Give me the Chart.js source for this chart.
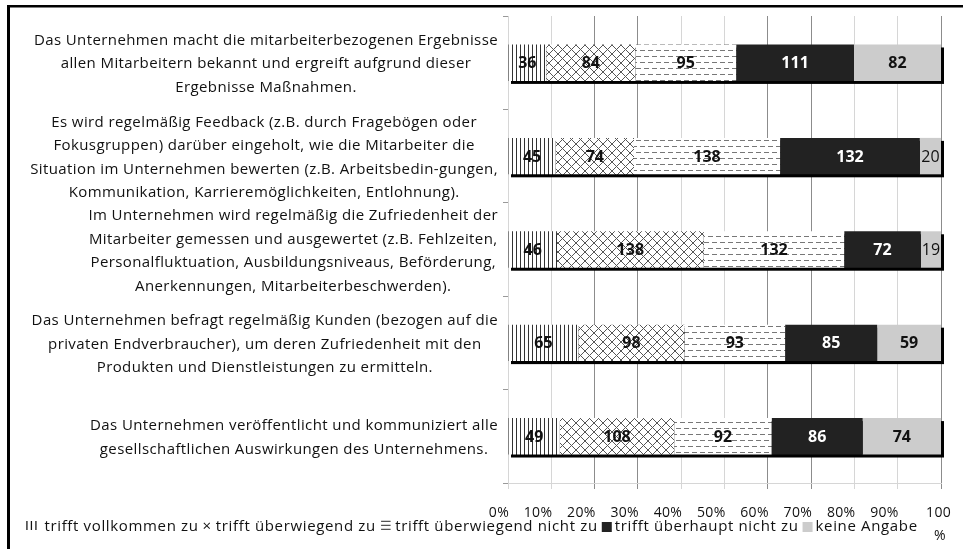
<!DOCTYPE html>
<html>
<head>
<meta charset="utf-8">
<script src="https://cdn.jsdelivr.net/npm/chart.js@4.4.1/dist/chart.umd.min.js"></script>
<style>
body { margin: 0; background: #fff; }
#wrap { width: 963px; height: 549px; position: relative; }
</style>
</head>
<body>
<div id="wrap"><canvas id="myChart"></canvas></div>
<script>
// Aussagen (Kategorien), je Zeile ein Array
const aussagen = [
    ["Das Unternehmen macht die mitarbeiterbezogenen Ergebnisse", "allen Mitarbeitern bekannt und ergreift aufgrund dieser", "Ergebnisse Maßnahmen."],
    ["Es wird regelmäßig Feedback (z.B. durch Fragebögen oder", "Fokusgruppen) darüber eingeholt, wie die Mitarbeiter die", "Situation im Unternehmen bewerten (z.B. Arbeitsbedin-gungen,", "Kommunikation, Karrieremöglichkeiten, Entlohnung)."],
    ["Im Unternehmen wird regelmäßig die Zufriedenheit der", "Mitarbeiter gemessen und ausgewertet (z.B. Fehlzeiten,", "Personalfluktuation, Ausbildungsniveaus, Beförderung,", "Anerkennungen, Mitarbeiterbeschwerden)."],
    ["Das Unternehmen befragt regelmäßig Kunden (bezogen auf die", "privaten Endverbraucher), um deren Zufriedenheit mit den", "Produkten und Dienstleistungen zu ermitteln."],
    ["Das Unternehmen veröffentlicht und kommuniziert alle", "gesellschaftlichen Auswirkungen des Unternehmens."]
];

const trifftVollkommen      = [36, 45, 46, 65, 49];
const trifftUeberwiegend    = [84, 74, 138, 98, 108];
const ueberwiegendNicht     = [95, 138, 132, 93, 92];
const ueberhauptNicht       = [111, 132, 72, 85, 86];
const keineAngabe           = [82, 20, 19, 59, 74];

const serienNamen = ["trifft vollkommen zu", "trifft überwiegend zu", "trifft überwiegend nicht zu", "trifft überhaupt nicht zu", "keine Angabe"];
const prozentTicks = [0, 10, 20, 30, 40, 50, 60, 70, 80, 90, 100];

const serien = [trifftVollkommen, trifftUeberwiegend, ueberwiegendNicht, ueberhauptNicht, keineAngabe];
const summen = aussagen.map((a, i) => serien.reduce((s, r) => s + r[i], 0));

const hilfsCtx = document.createElement('canvas').getContext('2d');
function muster(typ) {
    const c = document.createElement('canvas');
    const g = c.getContext('2d');
    if (typ === 'senkrecht') {
        c.width = 4; c.height = 4;
        g.fillStyle = '#fff'; g.fillRect(0, 0, 4, 4);
        g.fillStyle = '#333'; g.fillRect(0, 0, 1, 4);
    } else if (typ === 'kreuz') {
        c.width = 9; c.height = 9;
        g.fillStyle = '#fff'; g.fillRect(0, 0, 9, 9);
        g.strokeStyle = '#555'; g.lineWidth = 1;
        g.beginPath();
        g.moveTo(-1, -1); g.lineTo(10, 10);
        g.moveTo(10, -1); g.lineTo(-1, 10);
        g.stroke();
    } else {
        c.width = 8; c.height = 12;
        g.fillStyle = '#fff'; g.fillRect(0, 0, 8, 12);
        g.fillStyle = '#777';
        g.fillRect(0, 2, 5, 1);
        g.fillRect(4, 8, 4, 1);
        g.fillRect(0, 8, 1, 1);
    }
    return hilfsCtx.createPattern(c, 'repeat');
}

const fuellungen = [muster('senkrecht'), muster('kreuz'), muster('strich'), '#222222', '#cccccc'];

const schatten = {
    id: 'schatten',
    beforeDatasetsDraw(chart) {
        const ctx = chart.ctx, x = chart.scales.x;
        const l = x.getPixelForValue(0), r = x.getPixelForValue(100);
        ctx.save();
        ctx.fillStyle = '#000';
        chart.getDatasetMeta(0).data.forEach(bar => {
            ctx.fillRect(l + 3, bar.y - bar.height / 2 + 3, r - l, bar.height);
        });
        ctx.restore();
    }
};

const werte = {
    id: 'werte',
    afterDatasetsDraw(chart) {
        const ctx = chart.ctx;
        ctx.save();
        ctx.textAlign = 'center';
        ctx.textBaseline = 'middle';
        chart.data.datasets.forEach((ds, d) => {
            chart.getDatasetMeta(d).data.forEach((bar, i) => {
                const n = serien[d][i];
                ctx.font = (d === 4 && n < 30 ? '' : 'bold ') + '16px "Open Sans"';
                ctx.fillStyle = d === 3 ? '#fff' : '#111';
                ctx.fillText(n, (bar.x + bar.base) / 2, bar.y + 1);
            });
        });
        ctx.restore();
    }
};

const beschriftung = {
    id: 'beschriftung',
    afterDraw(chart) {
        const ctx = chart.ctx, y = chart.scales.y, x = chart.scales.x;
        ctx.save();
        // Rahmen
        ctx.fillStyle = '#000';
        ctx.fillRect(7, 5, 963, 2.5);
        ctx.fillRect(7, 5, 3, 549);
        // Aussagen links
        ctx.font = '15px "Open Sans"';
        ctx.letterSpacing = '0.4px';
        ctx.fillStyle = '#111';
        ctx.textAlign = 'center';
        ctx.textBaseline = 'middle';
        const zh = 23.5;
        aussagen.forEach((zeilen, i) => {
            const mw = Math.max(...zeilen.map(z => ctx.measureText(z).width));
            const cx = 498 - mw / 2;
            const y0 = y.getPixelForValue(i) + 1.5 - (zeilen.length - 1) * zh / 2;
            zeilen.forEach((z, k) => ctx.fillText(z, cx, y0 + k * zh));
        });
        // Prozentachse (Excel-Stil: rechtsbündig an der Gitterlinie, "%" von 100 umgebrochen)
        ctx.letterSpacing = '0.3px';
        ctx.font = '14px "Open Sans"';
        ctx.textAlign = 'right';
        prozentTicks.forEach(v => {
            ctx.fillText(v === 100 ? '100' : v + '%', x.getPixelForValue(v) + (v === 100 ? 10 : 1), 513);
        });
        ctx.textAlign = 'center';
        ctx.fillText('%', x.getPixelForValue(100) - 1, 536);
        // Legende
        ctx.textAlign = 'left';
        ctx.letterSpacing = '0.65px';
        let px = 25;
        const ly = 527;
        serienNamen.forEach((name, d) => {
            ctx.fillStyle = '#111';
            if (d === 0) {
                ctx.font = '13px "DejaVu Sans"';
                ctx.fillText('III', px, ly);
                px += ctx.measureText('III').width + 6;
            } else if (d === 1) {
                ctx.font = '15px "Open Sans"';
                ctx.fillText('×', px, ly);
                px += ctx.measureText('×').width + 4;
            } else if (d === 2) {
                ctx.font = '13px "DejaVu Sans"';
                ctx.fillStyle = '#555';
                ctx.fillText('☰', px, ly);
                px += ctx.measureText('☰').width + 3;
            } else {
                ctx.fillStyle = d === 3 ? '#222' : '#ccc';
                ctx.fillRect(px, ly - 5, 10, 10);
                px += 13;
            }
            ctx.font = '15px "Open Sans"';
            ctx.fillStyle = '#111';
            ctx.fillText(name, px, ly);
            px += ctx.measureText(name).width + 4;
        });
        ctx.restore();
    }
};

new Chart(document.getElementById("myChart"), {
    type: 'bar',
    data: {
        labels: aussagen,
        datasets: serien.map((s, d) => ({
            label: serienNamen[d],
            data: s.map((v, i) => v / summen[i] * 100),
            backgroundColor: fuellungen[d],
            borderWidth: 0,
            barPercentage: 0.39,
            categoryPercentage: 1
        }))
    },
    options: {
        indexAxis: 'y',
        responsive: true,
        maintainAspectRatio: false,
        animation: false,
        layout: { padding: { left: 503, right: 22, top: 16, bottom: 3 } },
        plugins: {
            legend: { display: false },
            tooltip: { enabled: false }
        },
        scales: {
            x: {
                stacked: true,
                min: 0,
                max: 100,
                afterBuildTicks(scale) { scale.ticks = prozentTicks.map(v => ({ value: v })); },
                afterFit(scale) { scale.height = 63; },
                ticks: { display: false },
                grid: {
                    color: c => [2, 3, 6, 7, 10].includes(c.index) ? '#8c8c8c' : '#d6d6d6',
                    tickLength: 6
                },
                border: { color: '#d6d6d6' }
            },
            y: {
                stacked: true,
                ticks: { display: false },
                grid: { drawOnChartArea: false, tickLength: 5, color: '#999' },
                border: { display: false }
            }
        }
    },
    plugins: [schatten, werte, beschriftung]
});
</script>
</body>
</html>
